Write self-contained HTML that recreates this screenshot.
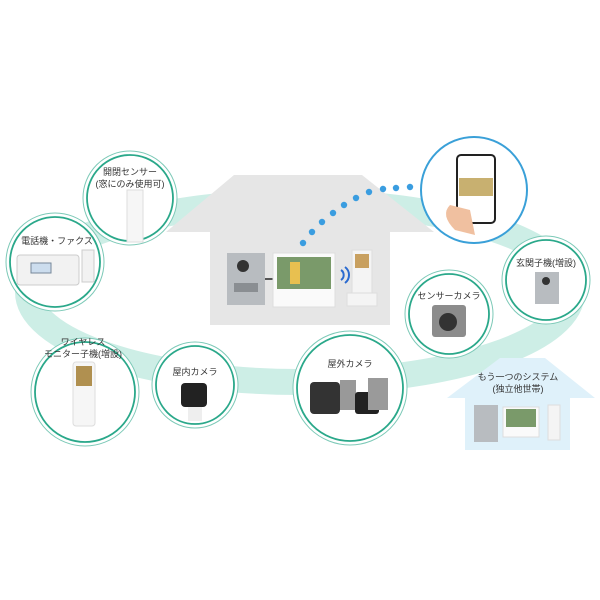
<!DOCTYPE html>
<html><head><meta charset="utf-8"><style>
body{margin:0;background:#fff}
svg{display:block}
text{font-family:"Liberation Sans","Noto Sans CJK JP",sans-serif;font-size:9px;fill:#333;text-anchor:middle}
</style></head><body>
<svg width="600" height="600" viewBox="0 0 600 600" xmlns="http://www.w3.org/2000/svg">
<rect width="600" height="600" fill="#fff"/>
<!-- teal band -->
<ellipse cx="300" cy="292" rx="272" ry="90" fill="none" stroke="#cdeee6" stroke-width="26"/>
<!-- main house -->
<polygon points="166,232 234,175 362,175 434,232 390,232 390,325 210,325 210,232" fill="#e6e6e6"/>
<!-- devices -->
<rect x="227" y="253" width="38" height="52" fill="#b8bcc0"/>
<circle cx="243" cy="266" r="6" fill="#333"/>
<rect x="234" y="283" width="24" height="9" fill="#8a8e92"/>
<rect x="265" y="278" width="8" height="2" fill="#555"/>
<rect x="273" y="253" width="62" height="54" fill="#fafafa" stroke="#ddd"/>
<rect x="277" y="257" width="54" height="32" fill="#7a9a6a"/>
<rect x="290" y="262" width="10" height="22" fill="#e8c050"/>
<path d="M341 270 a6 6 0 0 1 0 10 M345 267 a10 10 0 0 1 0 16" stroke="#2a6ad0" stroke-width="2" fill="none"/>
<rect x="352" y="250" width="20" height="45" fill="#f4f4f4" stroke="#ddd"/>
<rect x="355" y="254" width="14" height="14" fill="#c8a060"/>
<rect x="347" y="293" width="30" height="13" fill="#f4f4f4" stroke="#ddd"/>
<!-- blue dots -->
<g fill="#3a9de0">
<circle cx="303" cy="243" r="3.2"/><circle cx="312" cy="232" r="3.2"/><circle cx="322" cy="222" r="3.2"/><circle cx="333" cy="213" r="3.2"/><circle cx="344" cy="205" r="3.2"/><circle cx="356" cy="198" r="3.2"/><circle cx="369" cy="192" r="3.2"/><circle cx="383" cy="189" r="3.2"/><circle cx="396" cy="188" r="3.2"/><circle cx="410" cy="187" r="3.2"/>
</g>
<!-- second house -->
<polygon points="447,398 500,358 545,358 595,398 570,398 570,450 465,450 465,398" fill="#dff1fa"/>
<text x="518" y="380">もう一つのシステム</text>
<text x="518" y="392">(独立他世帯)</text>
<rect x="474" y="405" width="24" height="37" fill="#b8bcc0"/>
<rect x="503" y="407" width="36" height="30" fill="#fafafa" stroke="#ddd"/>
<rect x="506" y="409" width="30" height="18" fill="#7a9a6a"/>
<rect x="548" y="405" width="12" height="35" fill="#f4f4f4" stroke="#ddd"/>
<!-- circles -->
<g fill="#fff" stroke="#2aa88a">
<circle cx="130" cy="198" r="47" stroke-width="1" stroke="#7cc9b7"/><circle cx="130" cy="198" r="43" stroke-width="1.8"/>
<circle cx="55" cy="262" r="49" stroke-width="1" stroke="#7cc9b7"/><circle cx="55" cy="262" r="45" stroke-width="1.8"/>
<circle cx="85" cy="392" r="54" stroke-width="1" stroke="#7cc9b7"/><circle cx="85" cy="392" r="50" stroke-width="1.8"/>
<circle cx="195" cy="385" r="43" stroke-width="1" stroke="#7cc9b7"/><circle cx="195" cy="385" r="39" stroke-width="1.8"/>
<circle cx="350" cy="388" r="57" stroke-width="1" stroke="#7cc9b7"/><circle cx="350" cy="388" r="53" stroke-width="1.8"/>
<circle cx="449" cy="314" r="44" stroke-width="1" stroke="#7cc9b7"/><circle cx="449" cy="314" r="40" stroke-width="1.8"/>
<circle cx="546" cy="280" r="44" stroke-width="1" stroke="#7cc9b7"/><circle cx="546" cy="280" r="40" stroke-width="1.8"/>
<circle cx="474" cy="190" r="53" stroke-width="2" stroke="#3aa0d8"/>
</g>
<!-- circle contents -->
<text x="130" y="175">開閉センサー</text><text x="130" y="187">(窓にのみ使用可)</text>
<rect x="127" y="190" width="16" height="52" fill="#f6f6f6" stroke="#ddd"/>
<text x="57" y="244">電話機・ファクス</text>
<rect x="17" y="255" width="62" height="30" rx="3" fill="#f2f2f2" stroke="#ccc"/>
<rect x="31" y="263" width="20" height="10" fill="#cde" stroke="#789"/>
<rect x="82" y="250" width="12" height="32" fill="#f2f2f2" stroke="#ccc"/>
<text x="83" y="345">ワイヤレス</text><text x="83" y="357">モニター子機(増設)</text>
<rect x="73" y="362" width="22" height="64" rx="3" fill="#f6f6f6" stroke="#ddd"/>
<rect x="76" y="366" width="16" height="20" fill="#b09050"/>
<text x="195" y="375">屋内カメラ</text>
<rect x="181" y="383" width="26" height="24" rx="4" fill="#222"/>
<rect x="188" y="407" width="14" height="14" fill="#eee"/>
<text x="350" y="367">屋外カメラ</text>
<rect x="310" y="382" width="30" height="32" rx="4" fill="#333"/>
<rect x="340" y="380" width="16" height="30" fill="#999"/>
<rect x="355" y="392" width="24" height="22" rx="3" fill="#222"/>
<rect x="368" y="378" width="20" height="32" fill="#9a9a9a"/>
<text x="449" y="299">センサーカメラ</text>
<rect x="432" y="305" width="34" height="32" rx="3" fill="#8c8c8c"/>
<circle cx="448" cy="322" r="9" fill="#333"/>
<text x="546" y="266">玄関子機(増設)</text>
<rect x="535" y="272" width="24" height="32" fill="#b8bcc0"/>
<circle cx="546" cy="281" r="4" fill="#333"/>
<rect x="457" y="155" width="38" height="68" rx="4" fill="#fff" stroke="#222" stroke-width="2"/>
<rect x="459" y="178" width="34" height="18" fill="#c8b070"/>
<path d="M450 205 q-10 10 5 25 l20 5 l-5 -25 z" fill="#f0c0a0"/>
</svg>
</body></html>
